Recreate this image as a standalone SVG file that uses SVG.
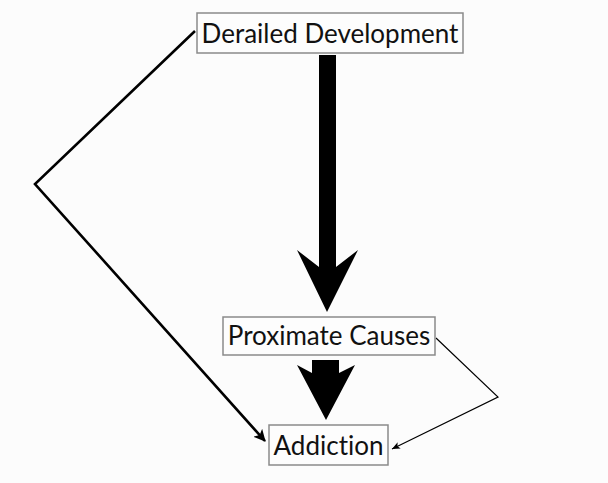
<svg xmlns="http://www.w3.org/2000/svg" width="608" height="483" viewBox="0 0 608 483">
<style>
.box{fill:#fdfdfd;stroke:#8a8a8a;stroke-width:1.5}
.lbl{font-family:Lato,"Open Sans","Liberation Sans",sans-serif;fill:#111;text-anchor:middle;font-variant-ligatures:none}
.thick{fill:none;stroke:#000;stroke-width:2.6}
.thin{fill:none;stroke:#000;stroke-width:1.2}
</style>
<defs>
<marker id="ah1" markerWidth="12" markerHeight="12" refX="11" refY="6" orient="auto" markerUnits="userSpaceOnUse" viewBox="0 0 12 12">
<path d="M0,0 L12,6 L0,12 L3,6 Z" fill="#000"/>
</marker>
<marker id="ah2" markerWidth="8" markerHeight="8" refX="8" refY="4" orient="auto" markerUnits="userSpaceOnUse" viewBox="0 0 8 8">
<path d="M0,0.5 L8,4 L0,7.5 L2,4 Z" fill="#000"/>
</marker>
</defs>
<rect width="608" height="483" fill="#fcfcfc"/>
<g id="connectors">
<polygon points="319,55 336,55 336,267 358,250 327,312 297,250 319,267" fill="#000"/>
<polygon points="312,360 339,360 339,373 355,365 326,420 297,365 312,373" fill="#000"/>
<polyline class="thick" points="195,31 35,184 265,441" marker-end="url(#ah1)"/>
<polyline class="thin" points="436,338 498,397 392,449" marker-end="url(#ah2)"/>
</g>
<g id="derailed">
<rect class="box" x="197" y="13" width="266" height="40"/>
<text class="lbl" x="330" y="43" font-size="26">Derailed Development</text>
</g>
<g id="proximate">
<rect class="box" x="223" y="317" width="212" height="38"/>
<text class="lbl" x="329" y="345" font-size="26">Proximate Causes</text>
</g>
<g id="addiction">
<rect class="box" x="269" y="425" width="119" height="40"/>
<text class="lbl" x="328.500" y="455" font-size="26">Addiction</text>
</g>
</svg>
